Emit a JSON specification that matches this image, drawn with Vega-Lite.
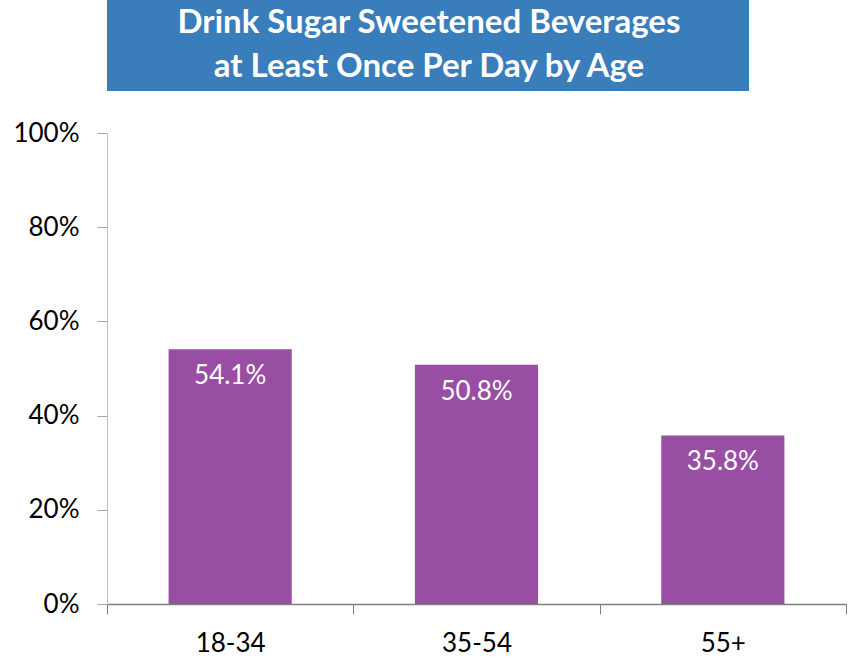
{
  "$schema": "https://vega.github.io/schema/vega-lite/v6.json",
  "padding": {"left": 12, "top": 0, "right": 3, "bottom": 0},
  "background": "white",
  "spacing": 42,
  "bounds": "flush",
  "config": {
    "font": "Lato",
    "view": {"stroke": null}
  },
  "datasets": {
    "heading": [
      {"line1": "Drink Sugar Sweetened Beverages", "line2": "at Least Once Per Day by Age"}
    ],
    "ages": [
      {"age": "18-34", "pct": 0.541},
      {"age": "35-54", "pct": 0.508},
      {"age": "55+", "pct": 0.358}
    ]
  },
  "vconcat": [
    {
      "width": 642,
      "height": 91,
      "view": {"fill": "#3a7dbb", "stroke": null},
      "data": {"name": "heading"},
      "mark": {
        "type": "text",
        "color": "white",
        "font": "Lato",
        "fontWeight": "bold",
        "fontSize": 33,
        "lineHeight": 44,
        "baseline": "middle",
        "align": "center"
      },
      "encoding": {
        "text": {"value": ["Drink Sugar Sweetened Beverages", "at Least Once Per Day by Age"]},
        "x": {"value": 322},
        "y": {"value": 23}
      }
    },
    {
      "width": 739,
      "height": 471,
      "data": {"name": "ages"},
      "encoding": {
        "x": {
          "field": "age",
          "type": "nominal",
          "sort": null,
          "title": null,
          "scale": {"paddingInner": 0, "paddingOuter": 0},
          "axis": {
            "labelAngle": 0,
            "labelFontSize": 26,
            "labelColor": "black",
            "labelPadding": 16,
            "tickBand": "extent",
            "tickSize": 10,
            "tickColor": "#7f7f7f",
            "domainColor": "#7f7f7f",
            "domainWidth": 1.5
          }
        },
        "y": {
          "field": "pct",
          "type": "quantitative",
          "title": null,
          "scale": {"domain": [0, 1]},
          "axis": {
            "values": [0, 0.2, 0.4, 0.6, 0.8, 1],
            "format": ".0%",
            "grid": false,
            "labelFontSize": 26,
            "labelColor": "black",
            "labelPadding": 18,
            "tickSize": 10,
            "tickColor": "#a6a6a6",
            "domainColor": "#bfbfbf"
          }
        }
      },
      "layer": [
        {"mark": {"type": "bar", "color": "#984ea3", "width": {"band": 0.5}}},
        {
          "mark": {
            "type": "text",
            "color": "white",
            "fontSize": 26,
            "baseline": "top",
            "dy": 14
          },
          "encoding": {
            "text": {"field": "pct", "type": "quantitative", "format": ".1%"}
          }
        }
      ]
    }
  ]
}
